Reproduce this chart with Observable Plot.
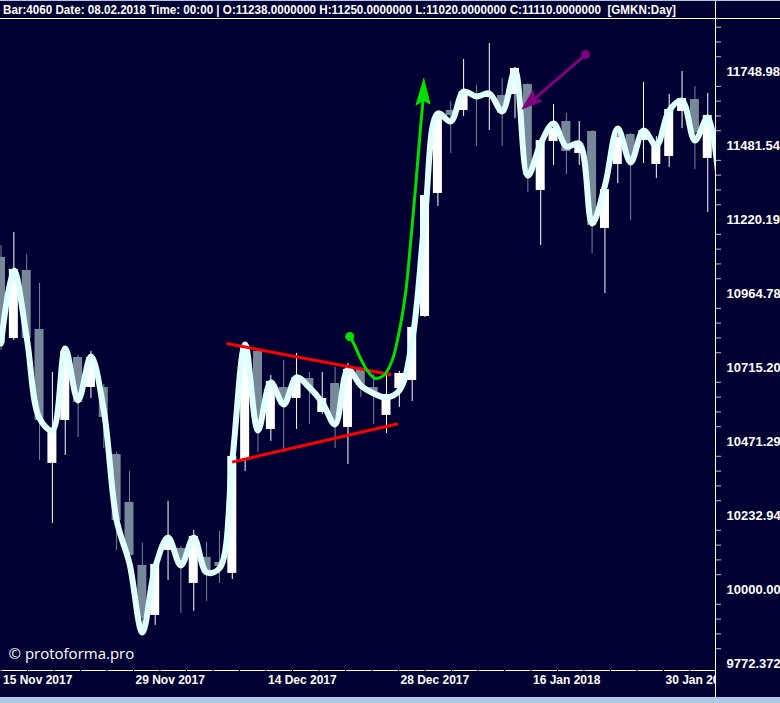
<!DOCTYPE html>
<html><head><meta charset="utf-8">
<script src="https://cdn.jsdelivr.net/npm/d3@7"></script>
<script src="https://cdn.jsdelivr.net/npm/@observablehq/plot@0.6"></script>
<style>
html,body{margin:0;padding:0;}
body{width:780px;height:703px;overflow:hidden;background:#adc8e4;font-family:"Liberation Sans",Arial,sans-serif;}
#wrap{position:relative;width:780px;height:697px;background:#000033;overflow:hidden;}
#topline{height:1px;background:#adc8e4;}
#hdr{height:17px;line-height:17px;color:#fff;font-weight:bold;font-size:13.5px;white-space:pre;overflow:hidden;padding-left:3px;}
#hdr span{display:inline-block;transform-origin:0 50%;}
#hline{height:1px;background:#fff;}
#chart svg{display:block;}
#cover{position:absolute;left:716px;top:671px;width:64px;height:26px;background:#000033;}
#vline{position:absolute;left:715px;top:1px;width:1px;height:696px;background:#fff;}
</style></head>
<body>
<div id="wrap">
  <div id="topline"></div>
  <div id="hdr"><span id="hdrtext"></span></div>
  <div id="hline"></div>
  <div id="chart"></div>
  <div id="cover"></div>
  <div id="vline"></div>
</div>
<script>
// ---- data (GMKN daily) ----
const headerText = "Bar:4060 Date: 08.02.2018 Time: 00:00 | O:11238.0000000 H:11250.0000000 L:11020.0000000 C:11110.0000000  [GMKN:Day]";
const openP  = [11088.6,10812.4,11043.8,10842.9,10400.2,10540.2,10748.9,10648.8,10648.8,10429.3,10274.7,10075.3,9919.7,10122.3,10128.6,10018.8,10100.4,10084.7,10050.2,10409.9,10769.1,10510.7,10648.8,10612.5,10678.8,10566.5,10662.1,10517.2,10708.9,10648.8,10556.7,10645.4,10672.1,10886.9,11311.4,11607.6,11607.6,11668.9,11654.5,11661.7,11665.3,11701.6,11321.9,11495.9,11567.9,11453.3,11531.8,11189.1,11414.2,11521.0,11499.4,11414.2,11442.6,11604.0,11647.3,11435.5,11428.4];
const highP  = [11129.9,11175.1,11098.9,10999.1,10698.8,10782.3,10755.5,10769.1,10658.8,10435.8,10374.3,10144.3,10084.7,10277.9,10134.8,10185.5,10147.4,10182.3,10429.3,10799.0,10775.6,10688.8,10738.9,10762.4,10698.8,10698.8,10715.5,10728.9,10715.5,10692.2,10688.8,10702.2,10856.4,11311.4,11593.2,11640.0,11793.2,11698.0,11851.8,11723.6,11763.9,11705.3,11506.6,11629.2,11596.8,11567.9,11535.5,11368.0,11517.4,11524.6,11708.9,11513.8,11665.3,11749.3,11694.3,11668.9,11464.0];
const lowP   = [10772.3,10805.7,10805.7,10409.9,10207.8,10426.1,10484.4,10612.5,10448.7,10122.3,10097.2,9888.8,9888.8,10028.2,9925.9,9932.1,9962.9,10018.8,10031.4,10374.3,10435.8,10471.6,10435.8,10510.7,10527.1,10560.0,10448.7,10396.9,10615.8,10527.1,10497.5,10583.0,10602.7,10883.5,11266.0,11453.3,11585.9,11478.1,11535.5,11478.1,11578.7,11314.9,11129.9,11410.6,11378.7,11410.6,11102.4,10964.8,11346.7,11217.0,11417.8,11364.5,11403.5,11542.7,11396.4,11245.0,11182.1];
const closeP = [10795.6,11047.3,10812.4,10540.2,10513.9,10769.1,10599.4,10748.9,10550.1,10217.3,10106.6,9910.4,10078.4,10163.2,10075.3,10166.4,10050.2,10072.1,10422.8,10789.0,10523.8,10668.8,10589.5,10682.2,10648.8,10612.5,10530.4,10708.9,10655.5,10632.2,10625.6,10695.5,10849.7,11304.4,11585.9,11589.6,11676.1,11654.5,11665.3,11596.8,11760.2,11375.1,11499.4,11542.7,11460.4,11488.8,11199.5,11325.4,11510.2,11435.5,11535.5,11488.8,11611.2,11650.9,11528.2,11589.6,11286.9];
// smoothed indicator line, one value per bar
const smoothP = [10795.6,11043.8,10815.8,10546.8,10507.4,10779.0,10606.0,10752.2,10573.1,10217.3,10081.5,9867.1,10069.0,10163.2,10075.3,10163.2,10053.3,10065.9,10409.9,10792.3,10507.4,10665.5,10592.8,10682.2,10648.8,10599.4,10527.1,10708.9,10655.5,10628.9,10615.8,10638.8,10805.7,11234.5,11596.8,11567.9,11676.1,11658.1,11668.9,11604.0,11752.9,11375.1,11488.8,11560.7,11478.1,11488.8,11206.5,11339.6,11542.7,11421.4,11535.5,11481.7,11607.6,11643.6,11499.4,11582.3,11286.9];

// axes
const yTickLabels = ["9772.372","10000.00","10232.94","10471.29","10715.20","10964.78","11220.19","11481.54","11748.98"];
const dateTickLabels = ["15 Nov 2017","29 Nov 2017","14 Dec 2017","28 Dec 2017","16 Jan 2018","30 Jan 2018"];
const dateTickEveryBars = 10.311;

// annotations (bar index, price)
const redX1 = [17.55, 17.99], redY1 = [10795.6, 10404.4];
const redX2 = [30.37, 30.88], redY2 = [10691.2, 10529.4];
const greenX = [27.14,27.45,27.98,28.50,29.14,29.79,30.44,30.96,31.48,31.87,32.26,32.65,32.86];
const greenY = [10819.2,10795.6,10745.5,10705.5,10678.8,10688.8,10738.9,10829.3,10964.8,11136.8,11332.5,11546.3,11654.5];
const greenHeadX = [32.90, 32.30, 32.86, 33.39, 32.90];
const greenHeadY = [11722.5, 11627.4, 11643.7, 11631.0, 11722.5];
const purpleX = [45.49, 41.56], purpleY = [11811.5, 11651.6];
const purpleHeadX = [40.56, 41.39, 41.56, 42.10, 40.56];
const purpleHeadY = [11613.7, 11679.7, 11651.6, 11641.5, 11613.7];

// ---- build ----
const UP = "#ffffff", DOWN = "#778899";
const candles = openP.map((o, i) => ({i, open: o, high: highP[i], low: lowP[i], close: closeP[i], up: closeP[i] >= o}));
const smooth = smoothP.map((v, i) => ({i, v}));
const yTicks = yTickLabels.map(Number);
const yLabelMap = new Map(yTicks.map((v, i) => [v, yTickLabels[i]]));
const yMinor = d3.range(-8, 45).map(m => Math.pow(10, 4 + m * 0.002)).filter(v => v > 9752 && v < 11940);
const datePos = dateTickLabels.map((_, k) => k * dateTickEveryBars);
const dateMap = new Map(datePos.map((p, k) => [p, dateTickLabels[k]]));
const xMinor = d3.range(0, 35).map(k => k * dateTickEveryBars / 5);
const reds = redX1.map((x, k) => ({x1: x, y1: redY1[k], x2: redX2[k], y2: redY2[k]}));
const green = greenX.map((x, k) => ({x, y: greenY[k]}));
const greenHead = greenHeadX.map((x, k) => ({x, y: greenHeadY[k]}));
const purple = purpleX.map((x, k) => ({x, y: purpleY[k]}));
const purpleHead = purpleHeadX.map((x, k) => ({x, y: purpleHeadY[k]}));
const GREEN = "#00e000", PURPLE = "#800080";

const chart = Plot.plot({
  width: 780, height: 678,
  marginLeft: 0, marginRight: 65, marginTop: 0, marginBottom: 27,
  style: {background: "#000033", color: "#fff", fontFamily: "'Liberation Sans', Arial, sans-serif", fontSize: "12px"},
  x: {type: "linear", domain: [0, 55], range: [0.5, 707.25]},
  y: {type: "log", domain: [9751.1, 11940.9], range: [651, 0]},
  marks: [
    Plot.ruleX(candles, {x: "i", y1: "low", y2: "high", stroke: d => d.up ? UP : DOWN, strokeWidth: 1, clip: "frame"}),
    Plot.rect(candles, {x1: d => d.i - 0.35, x2: d => d.i + 0.35, y1: "open", y2: "close", fill: d => d.up ? UP : DOWN, clip: "frame"}),
    Plot.line(smooth, {x: "i", y: "v", stroke: "#e0ffff", strokeWidth: 6, curve: "catmull-rom", clip: "frame"}),
    Plot.link(reds, {x1: "x1", y1: "y1", x2: "x2", y2: "y2", stroke: "#ff0000", strokeWidth: 3}),
    Plot.line(green, {x: "x", y: "y", stroke: GREEN, strokeWidth: 3, curve: "catmull-rom"}),
    Plot.line(greenHead, {x: "x", y: "y", fill: GREEN, stroke: GREEN, strokeWidth: 1}),
    Plot.dot(green.slice(0, 1), {x: "x", y: "y", r: 4.5, fill: GREEN}),
    Plot.line(purple, {x: "x", y: "y", stroke: PURPLE, strokeWidth: 3}),
    Plot.line(purpleHead, {x: "x", y: "y", fill: PURPLE, stroke: PURPLE, strokeWidth: 1}),
    Plot.dot(purple.slice(0, 1), {x: "x", y: "y", r: 4.5, fill: PURPLE}),
    Plot.text(["© protoforma.pro"], {frameAnchor: "bottom-left", dx: 8, dy: -12, fontSize: 15, fill: "#fff", fontFamily: "'Open Sans', sans-serif", textAnchor: "start", lineAnchor: "bottom"}),
    Plot.frame({anchor: "bottom", stroke: "#fff"}),
    Plot.axisY({anchor: "right", ticks: yMinor, tickSize: 5, tickFormat: () => "", stroke: "#c0c0c0", label: null}),
    Plot.axisY({anchor: "right", ticks: yTicks, tickSize: 10, tickPadding: 1, tickFormat: d => yLabelMap.get(d), stroke: "#000", fill: "#fff", fontWeight: "bold", fontSize: 13, textAnchor: "start", label: null}),
    Plot.axisX({anchor: "bottom", ticks: xMinor, tickSize: 3, tickFormat: () => "", stroke: "#000", label: null}),
    Plot.axisX({anchor: "bottom", ticks: datePos, tickSize: 0, tickPadding: 5, dx: 2, tickFormat: d => dateMap.get(d), fill: "#fff", fontWeight: "bold", fontSize: 12, textAnchor: "start", label: null})
  ]
});
document.getElementById("chart").appendChild(chart);

const ht = document.getElementById("hdrtext");
ht.textContent = headerText;
const w = ht.getBoundingClientRect().width;
ht.style.transform = `scaleX(${673 / w})`;
</script>
</body></html>
